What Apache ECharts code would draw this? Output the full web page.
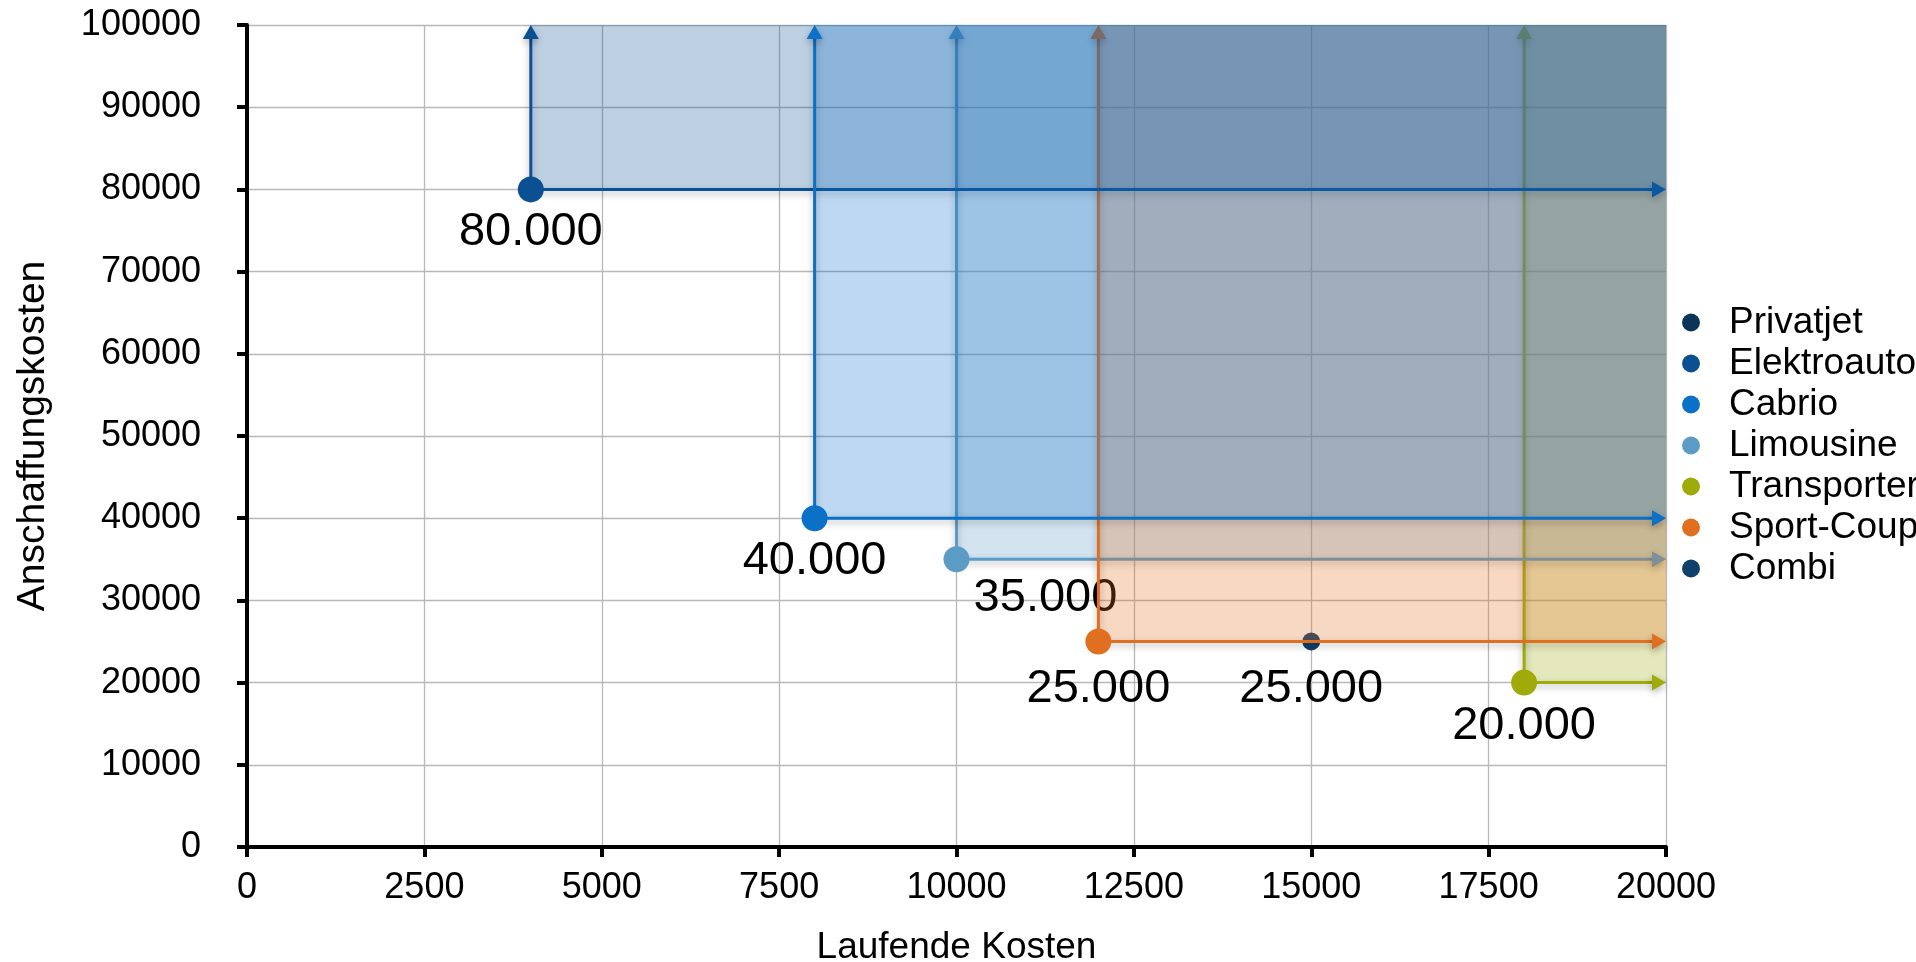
<!DOCTYPE html>
<html>
<head>
<meta charset="utf-8">
<script src="https://cdn.jsdelivr.net/npm/echarts@6/dist/echarts.min.js"></script>
<style>
html,body{margin:0;padding:0;background:#ffffff;}
#chart{width:1916px;height:962px;}
</style>
</head>
<body>
<div id="chart"></div>
<script>
// ---------- data ----------
const vehicles = ['Privatjet', 'Elektroauto', 'Cabrio', 'Limousine', 'Transporter', 'Sport-Coupé', 'Combi'];
const laufendeKosten = [null, 4000, 8000, 10000, 18000, 12000, 15000];
const anschaffungskosten = [null, 80000, 40000, 35000, 20000, 25000, 25000];
const xTicks = [0, 2500, 5000, 7500, 10000, 12500, 15000, 17500, 20000];
const yTicks = [0, 10000, 20000, 30000, 40000, 50000, 60000, 70000, 80000, 90000, 100000];
const xAxisName = 'Laufende Kosten';
const yAxisName = 'Anschaffungskosten';

// ---------- styles ----------
const FONT = '"Liberation Sans", Arial, Helvetica, sans-serif';
const colors = {
  'Privatjet': '#0a3558',
  'Elektroauto': '#0b5092',
  'Cabrio': '#0a70c8',
  'Limousine': '#5b9bc6',
  'Transporter': '#9fab08',
  'Sport-Coupé': '#e07020',
  'Combi': '#0f3f6b'
};
// drawing order (later drawn on top)
const drawOrder = ['Combi', 'Transporter', 'Limousine', 'Sport-Coupé', 'Elektroauto', 'Cabrio', 'Privatjet'];
const markStyle = {
  'Combi': { box: false, r: 9, dx: 0, dy: 48 },
  'Limousine': { box: true, r: 13, dx: 89, dy: 39 },
  'Sport-Coupé': { box: true, r: 13, dx: 0, dy: 48 },
  'default': { box: true, r: 13, dx: 0, dy: 43 }
};

function hexA(hex, a) {
  const n = parseInt(hex.slice(1), 16);
  return 'rgba(' + (n >> 16 & 255) + ',' + (n >> 8 & 255) + ',' + (n & 255) + ',' + a + ')';
}
function fmt(v) {
  return String(Math.round(v)).replace(/\B(?=(\d{3})+(?!\d))/g, '.');
}

const xMin = xTicks[0], xMax = xTicks[xTicks.length - 1];
const yMin = yTicks[0], yMax = yTicks[yTicks.length - 1];

function makeRender(name) {
  const col = colors[name];
  const st = Object.assign({}, markStyle['default'], markStyle[name] || {});
  return function (params, api) {
    const p = api.coord([api.value(0), api.value(1)]);
    const tr = api.coord([xMax, yMax]);
    const children = [];
    const AL = 14, AW = 8;
    const shadow = { shadowBlur: 7, shadowOffsetX: 0, shadowOffsetY: 3, shadowColor: 'rgba(0,0,0,0.30)' };
    if (st.box) {
      children.push({
        type: 'rect',
        shape: { x: p[0], y: tr[1], width: tr[0] - p[0], height: p[1] - tr[1] },
        style: { fill: hexA(col, 0.27) }
      });
      children.push({
        type: 'line',
        shape: { x1: p[0], y1: p[1], x2: p[0], y2: tr[1] + AL - 1 },
        style: Object.assign({ stroke: col, lineWidth: 3 }, shadow)
      });
      children.push({
        type: 'polygon',
        shape: { points: [[p[0], tr[1]], [p[0] - AW, tr[1] + AL], [p[0] + AW, tr[1] + AL]] },
        style: Object.assign({ fill: col }, shadow)
      });
      children.push({
        type: 'line',
        shape: { x1: p[0], y1: p[1], x2: tr[0] - AL + 1, y2: p[1] },
        style: Object.assign({ stroke: col, lineWidth: 3 }, shadow)
      });
      children.push({
        type: 'polygon',
        shape: { points: [[tr[0], p[1]], [tr[0] - AL, p[1] - AW], [tr[0] - AL, p[1] + AW]] },
        style: Object.assign({ fill: col }, shadow)
      });
    }
    children.push({
      type: 'circle',
      shape: { cx: p[0], cy: p[1], r: st.r },
      style: { fill: col }
    });
    children.push({
      type: 'text',
      x: p[0] + st.dx,
      y: p[1] + st.dy,
      style: {
        text: fmt(api.value(1)),
        fill: '#000000',
        fontSize: 47,
        fontFamily: FONT,
        align: 'center',
        verticalAlign: 'middle'
      }
    });
    return { type: 'group', children: children };
  };
}

const series = drawOrder.map(function (name) {
  const i = vehicles.indexOf(name);
  const data = (laufendeKosten[i] == null) ? [] : [[laufendeKosten[i], anschaffungskosten[i]]];
  return {
    name: name,
    type: 'custom',
    coordinateSystem: 'cartesian2d',
    itemStyle: { color: colors[name] },
    silent: true,
    clip: false,
    renderItem: makeRender(name),
    data: data
  };
});

const plainNum = function (v) { return String(v); };

const chart = echarts.init(document.getElementById('chart'), null, { renderer: 'canvas' });
chart.setOption({
  animation: false,
  backgroundColor: '#ffffff',
  textStyle: { fontFamily: FONT },
  grid: { left: 247, right: 250, top: 25, bottom: 115, containLabel: false, outerBoundsMode: 'none' },
  legend: {
    orient: 'vertical',
    left: 1677,
    top: 299,
    itemWidth: 66,
    itemHeight: 18,
    itemGap: 4,
    icon: 'circle',
    selectedMode: false,
    data: vehicles,
    textStyle: { fontSize: 37, fontFamily: FONT, color: '#000000', lineHeight: 37 }
  },
  xAxis: {
    type: 'value',
    min: xMin, max: xMax, interval: xTicks[1] - xTicks[0],
    name: xAxisName,
    nameLocation: 'middle',
    nameGap: 82,
    nameTextStyle: { fontSize: 37, fontFamily: FONT, color: '#000000' },
    axisLine: { show: true, onZero: false, lineStyle: { color: '#000000', width: 4 } },
    axisTick: { show: true, length: 10, lineStyle: { color: '#000000', width: 4 } },
    axisLabel: { fontSize: 36, fontFamily: FONT, color: '#000000', margin: 23, formatter: plainNum },
    splitLine: { show: true, lineStyle: { color: '#b8b8b8', width: 1.3 } }
  },
  yAxis: {
    type: 'value',
    min: yMin, max: yMax, interval: yTicks[1] - yTicks[0],
    name: yAxisName,
    nameLocation: 'middle',
    nameGap: 194,
    nameTextStyle: { fontSize: 39, fontFamily: FONT, color: '#000000' },
    axisLine: { show: true, onZero: false, lineStyle: { color: '#000000', width: 4 } },
    axisTick: { show: true, length: 10, lineStyle: { color: '#000000', width: 4 } },
    axisLabel: { fontSize: 36, fontFamily: FONT, color: '#000000', margin: 46, formatter: plainNum },
    splitLine: { show: true, lineStyle: { color: '#b8b8b8', width: 1.3 } }
  },
  series: series
});
</script>
</body>
</html>
